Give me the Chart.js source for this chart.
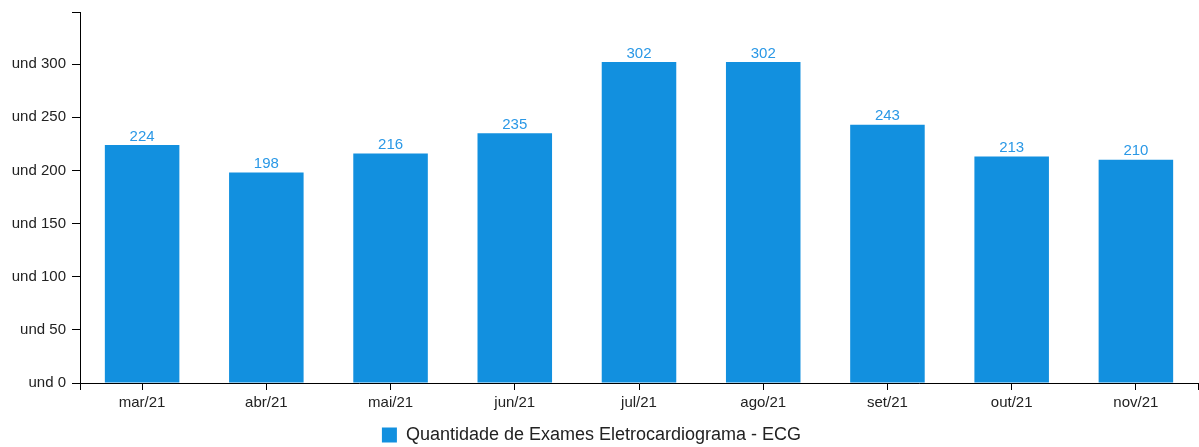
<!DOCTYPE html>
<html>
<head>
<meta charset="utf-8">
<script src="https://cdn.jsdelivr.net/npm/chart.js@4"></script>
<style>
  html, body { margin: 0; padding: 0; background: #fff; }
  #wrap { width: 1199px; height: 447px; position: relative; }
</style>
</head>
<body>
<div id="wrap"><canvas id="chart"></canvas></div>
<script>
// monthly ECG exam counts
const months = ['mar/21', 'abr/21', 'mai/21', 'jun/21', 'jul/21', 'ago/21', 'set/21', 'out/21', 'nov/21'];
const exams = [224, 198, 216, 235, 302, 302, 243, 213, 210];
const seriesName = 'Quantidade de Exames Eletrocardiograma - ECG';
const yTicks = [0, 50, 100, 150, 200, 250, 300];
const yMax = 349;

const barColor = '#1290df';
const labelColor = '#2a98e6';
const font = 'Liberation Sans, Arial, sans-serif';

// value printed above each bar
const barValues = {
    id: 'barValues',
    afterDatasetsDraw(chart) {
        const ctx = chart.ctx;
        const meta = chart.getDatasetMeta(0);
        ctx.save();
        ctx.fillStyle = labelColor;
        ctx.font = '15px ' + font;
        ctx.textAlign = 'center';
        ctx.textBaseline = 'bottom';
        meta.data.forEach((bar, i) => {
            ctx.fillText(chart.data.datasets[0].data[i], bar.x, bar.y - 1);
        });
        ctx.restore();
    }
};

// little end ticks hanging down at both ends of the x axis
const axisEnds = {
    id: 'axisEnds',
    afterDraw(chart) {
        const x = chart.scales.x;
        const ctx = chart.ctx;
        ctx.save();
        ctx.strokeStyle = '#000';
        ctx.lineWidth = 1;
        ctx.beginPath();
        [x.left, x.right].forEach(px => {
            const p = Math.round(px) + 0.5;
            ctx.moveTo(p, x.top);
            ctx.lineTo(p, x.top + 7);
        });
        ctx.stroke();
        ctx.restore();
    }
};

new Chart(document.getElementById('chart'), {
    type: 'bar',
    data: {
        labels: months,
        datasets: [{
            label: seriesName,
            data: exams,
            backgroundColor: barColor,
            borderWidth: 0,
            barPercentage: 0.6,
            categoryPercentage: 1,
        }],
    },
    options: {
        responsive: true,
        maintainAspectRatio: false,
        animation: false,
        // negative left padding keeps the legend centred a bit left of the canvas middle
        layout: { padding: { top: 12, right: 1, left: -15, bottom: -7 } },
        scales: {
            x: {
                offset: true,
                grid: { offset: false, drawOnChartArea: false, tickLength: 7, color: '#000' },
                border: { color: '#000' },
                ticks: { color: '#222', font: { family: font, size: 15 }, padding: 4, maxRotation: 0 },
                afterFit: s => { s.height += 8; },
            },
            y: {
                min: 0,
                max: yMax,
                grid: { drawOnChartArea: false, tickLength: 8, color: '#000' },
                border: { color: '#000' },
                // fixed ticks plus an unlabelled end tick at the top of the axis
                afterBuildTicks: s => {
                    s.ticks = yTicks.concat(yMax).map(v => ({ value: v }));
                },
                ticks: {
                    color: '#222',
                    font: { family: font, size: 15 },
                    padding: 6,
                    callback: v => (yTicks.includes(v) ? 'und ' + v : ''),
                },
                afterFit: s => {
                    s.width = 95;
                    s.paddingTop = 0;
                    s.paddingBottom = 0;
                },
            },
        },
        plugins: {
            legend: {
                position: 'bottom',
                labels: {
                    boxWidth: 15,
                    boxHeight: 15,
                    color: '#222',
                    font: { family: font, size: 18 },
                    padding: 2,
                },
            },
            tooltip: { enabled: false },
        },
    },
    plugins: [barValues, axisEnds],
});
</script>
</body>
</html>
